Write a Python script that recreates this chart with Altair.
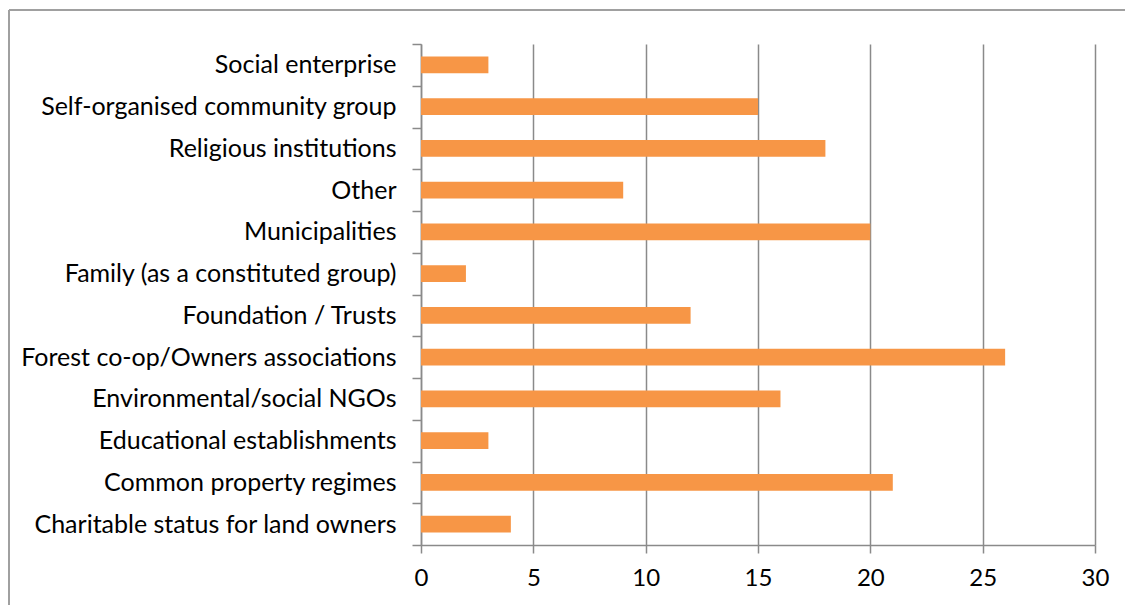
import altair as alt
import pandas as pd

categories = [
    "Social enterprise",
    "Self-organised community group",
    "Religious institutions",
    "Other",
    "Municipalities",
    "Family (as a constituted group)",
    "Foundation / Trusts",
    "Forest co-op/Owners associations",
    "Environmental/social NGOs",
    "Educational establishments",
    "Common property regimes",
    "Charitable status for land owners",
]
values = [3, 15, 18, 9, 20, 2, 12, 26, 16, 3, 21, 4]

df = pd.DataFrame({"category": categories, "value": values})

GRID = "#8a8a8a"
FONT = "Lato"

bars = alt.Chart(df).mark_bar(color="#f79646", height=alt.RelativeBandSize(0.4)).encode(
    x=alt.X(
        "value:Q",
        scale=alt.Scale(domain=[0, 30], nice=False),
        axis=alt.Axis(
            values=[0, 5, 10, 15, 20, 25, 30],
            title=None,
            grid=True,
            gridColor=GRID,
            gridWidth=1.5,
            domainColor=GRID,
            domainWidth=1.5,
            tickColor=GRID,
            tickWidth=1.5,
            tickSize=8,
            labelPadding=13,
            labelFlush=False,
            labelFont=FONT,
            labelFontSize=24,
            labelColor="#000000",
        ),
    ),
    y=alt.Y(
        "category:N",
        sort=categories,
        scale=alt.Scale(paddingInner=0, paddingOuter=0),
        axis=alt.Axis(
            title=None,
            tickBand="extent",
            grid=False,
            domainColor=GRID,
            domainWidth=1.5,
            tickColor=GRID,
            tickWidth=1.5,
            tickSize=9,
            labelPadding=16,
            labelFont=FONT,
            labelFontSize=25,
            labelColor="#000000",
            labelLimit=500,
        ),
    ),
)

border = alt.Chart(df).mark_rule(color="#a0a0a0", strokeWidth=2).encode(
    x=alt.value(-412), x2=alt.value(714), y=alt.value(-34)
)
border2 = alt.Chart(df).mark_rule(color="#a0a0a0", strokeWidth=2).encode(
    x=alt.value(-412), y=alt.value(-34), y2=alt.value(562)
)

chart = alt.layer(bars, border, border2).properties(
    width=674,
    height=501,
    autosize=alt.AutoSizeParams(type="none"),
    padding={"left": 413, "top": 36, "right": 30, "bottom": 60},
).configure_view(stroke=None)

chart.save("out.html", embed_options={"renderer": "svg", "actions": False})
